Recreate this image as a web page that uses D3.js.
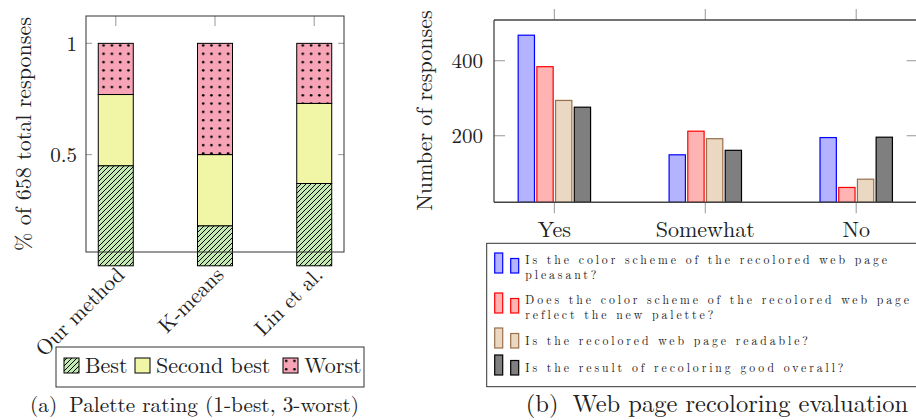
<!DOCTYPE html>
<html>
<head>
<meta charset="utf-8">
<script src="https://cdn.jsdelivr.net/npm/d3@7"></script>
<style>
  html, body { margin: 0; padding: 0; background: #fff; }
  svg { display: block; }
</style>
</head>
<body>
<svg id="chart" width="916" height="420" font-family="Latin Modern Roman, Liberation Serif, serif"></svg>
<script>
// (a) palette rating, fraction of 658 responses per method
const methods = ["Our method", "K-means", "Lin et al."];
const ranks = ["Best", "Second best", "Worst"];
const bestShare = [0.45, 0.18, 0.37];
const secondShare = [0.32, 0.32, 0.36];
const worstShare = [0.23, 0.50, 0.27];
const shareTicks = [0.5, 1];

// (b) web page recoloring evaluation, number of responses
const answers = ["Yes", "Somewhat", "No"];
const questions = [
  ["Is the color scheme of the recolored web page", "pleasant?"],
  ["Does the color scheme of the recolored web page", "reflect the new palette?"],
  ["Is the recolored web page readable?"],
  ["Is the result of recoloring good overall?"]
];
const pleasantCounts = [468, 149, 195];
const reflectCounts = [384, 212, 62];
const readableCounts = [294, 192, 84];
const overallCounts = [276, 161, 196];
const countTicks = [200, 400];

const FONT = "Latin Modern Roman, Liberation Serif, serif";
const svg = d3.select("#chart");
const defs = svg.append("defs");

// fill patterns for the stacked bars
const hatch = defs.append("pattern").attr("id", "hatch")
  .attr("patternUnits", "userSpaceOnUse").attr("width", 5).attr("height", 5);
hatch.append("rect").attr("width", 5).attr("height", 5).attr("fill", "#c3eab0");
hatch.append("path").attr("d", "M-1,1 l2,-2 M0,5 l5,-5 M4,6 l2,-2")
  .attr("stroke", "#000").attr("stroke-width", 1);

const dots = defs.append("pattern").attr("id", "dots")
  .attr("patternUnits", "userSpaceOnUse").attr("width", 8.3).attr("height", 8.3);
dots.append("rect").attr("width", 8.3).attr("height", 8.3).attr("fill", "#f6a4b6");
dots.append("circle").attr("cx", 4).attr("cy", 4).attr("r", 1.3).attr("fill", "#000");

const rankFill = ["url(#hatch)", "#f0f6a6", "url(#dots)"];

drawPaletteChart();
drawRecolorChart();

function label(sel) {
  return sel.attr("font-family", FONT).attr("fill", "#222");
}

function drawPaletteChart() {
  const box = { left: 86, right: 344, top: 16, bottom: 252 };
  const x = d3.scalePoint().domain(methods).range([box.left, box.right]).padding(0.3);
  const y = d3.scaleLinear().domain([0.062, 1.123]).range([box.bottom, box.top]);
  const barW = 35;

  const rows = methods.map((m, i) => ({ method: m, Best: bestShare[i], "Second best": secondShare[i], Worst: worstShare[i] }));
  const series = d3.stack().keys(ranks)(rows);

  const g = svg.append("g");

  // ticks inside the frame
  g.selectAll(".ytl").data(shareTicks).join("line")
    .attr("x1", box.left).attr("x2", box.left + 6)
    .attr("y1", (d) => y(d)).attr("y2", (d) => y(d))
    .attr("stroke", "#a8a8a8").attr("stroke-width", 1.2);
  g.selectAll(".ytr").data(shareTicks).join("line")
    .attr("x1", box.right - 6).attr("x2", box.right)
    .attr("y1", (d) => y(d)).attr("y2", (d) => y(d))
    .attr("stroke", "#a8a8a8").attr("stroke-width", 1.2);
  g.selectAll(".xtt").data(methods).join("line")
    .attr("x1", (d) => x(d)).attr("x2", (d) => x(d))
    .attr("y1", box.top).attr("y2", box.top + 10)
    .attr("stroke", "#a8a8a8").attr("stroke-width", 1.2);

  g.selectAll("g.layer").data(series).join("g")
    .attr("class", "layer")
    .attr("fill", (d, i) => rankFill[i])
    .selectAll("rect").data((d) => d).join("rect")
    .attr("x", (d) => x(d.data.method) - barW / 2)
    .attr("width", barW)
    .attr("y", (d) => y(d[1]))
    .attr("height", (d) => y(d[0]) - y(d[1]))
    .attr("stroke", "#000").attr("stroke-width", 1);

  g.append("rect")
    .attr("x", box.left).attr("y", box.top)
    .attr("width", box.right - box.left).attr("height", box.bottom - box.top)
    .attr("fill", "none").attr("stroke", "#333").attr("stroke-width", 1);

  g.selectAll(".ylab").data(shareTicks).join("text")
    .call(label)
    .attr("x", box.left - 9).attr("y", (d) => y(d))
    .attr("dy", "0.35em").attr("text-anchor", "end")
    .attr("font-size", 21)
    .text((d) => d3.format("")(d));

  g.selectAll(".xlab").data(methods).join("text")
    .call(label)
    .attr("text-anchor", "end").attr("font-size", 21.5)
    .attr("transform", (d) => `translate(${x(d) + 10},${box.bottom + 24}) rotate(-45)`)
    .text((d) => d);

  g.append("text")
    .call(label)
    .attr("transform", `translate(31,${(box.top + box.bottom) / 2}) rotate(-90)`)
    .attr("text-anchor", "middle").attr("font-size", 22)
    .text("% of 658 total responses");

  // legend
  const lg = svg.append("g");
  lg.append("rect").attr("x", 56).attr("y", 347).attr("width", 308).attr("height", 40)
    .attr("fill", "#fff").attr("stroke", "#333").attr("stroke-width", 1);
  const lx = [64, 135, 283];
  ranks.forEach((r, i) => {
    lg.append("rect").attr("x", lx[i]).attr("y", 358).attr("width", 15).attr("height", 15)
      .attr("fill", rankFill[i]).attr("stroke", "#000").attr("stroke-width", 1);
    lg.append("text").call(label).attr("x", lx[i] + 21).attr("y", 373)
      .attr("font-size", 22).text(r);
  });

  const cap = svg.append("text").call(label).attr("x", 30).attr("y", 412)
    .attr("font-size", 21.3);
  cap.append("tspan").text("(a)");
  cap.append("tspan").attr("dx", 12).text("Palette rating (1-best, 3-worst)");
}

function drawRecolorChart() {
  const box = { left: 494, right: 916.6, top: 20, bottom: 202.3 };
  const x0 = d3.scalePoint().domain(answers).range([box.left, box.right]).padding(0.4);
  const x1 = d3.scaleBand().domain(d3.range(questions.length)).range([-36.2, 36.2]).paddingInner(0.128);
  const y = d3.scaleLinear().domain([22.4, 508.5]).range([box.bottom, box.top]);

  const counts = [pleasantCounts, reflectCounts, readableCounts, overallCounts];
  const strokes = ["#0000ff", "#ff0000", "#99704a", "#000000"];
  const fills = ["#b3b3ff", "#ffb3b3", "#ead8c3", "#7f7f7f"];

  const g = svg.append("g");

  g.selectAll(".ytl").data(countTicks).join("line")
    .attr("x1", box.left).attr("x2", box.left + 11)
    .attr("y1", (d) => y(d)).attr("y2", (d) => y(d))
    .attr("stroke", "#a8a8a8").attr("stroke-width", 1.2);
  g.selectAll(".ytr").data(countTicks).join("line")
    .attr("x1", box.right - 10).attr("x2", box.right)
    .attr("y1", (d) => y(d)).attr("y2", (d) => y(d))
    .attr("stroke", "#a8a8a8").attr("stroke-width", 1.2);
  g.selectAll(".xtt").data(answers).join("line")
    .attr("x1", (d) => x0(d)).attr("x2", (d) => x0(d))
    .attr("y1", box.top - 11).attr("y2", box.top)
    .attr("stroke", "#a8a8a8").attr("stroke-width", 1.2);
  g.selectAll(".xtb").data(answers).join("line")
    .attr("x1", (d) => x0(d)).attr("x2", (d) => x0(d))
    .attr("y1", box.bottom).attr("y2", box.bottom + 11)
    .attr("stroke", "#a8a8a8").attr("stroke-width", 1.2);

  const groups = g.selectAll("g.grp").data(answers).join("g")
    .attr("class", "grp")
    .attr("transform", (d) => `translate(${x0(d)},0)`);
  groups.selectAll("rect")
    .data((d, ai) => counts.map((c, qi) => ({ q: qi, v: c[ai] })))
    .join("rect")
    .attr("x", (d) => x1(d.q))
    .attr("width", x1.bandwidth())
    .attr("y", (d) => y(d.v))
    .attr("height", (d) => box.bottom - y(d.v))
    .attr("fill", (d) => fills[d.q])
    .attr("stroke", (d) => strokes[d.q]).attr("stroke-width", 1.2);

  g.append("line").attr("x1", box.left).attr("x2", box.right)
    .attr("y1", box.top).attr("y2", box.top).attr("stroke", "#444").attr("stroke-width", 1.3);
  g.append("line").attr("x1", box.left).attr("x2", box.right)
    .attr("y1", box.bottom).attr("y2", box.bottom).attr("stroke", "#444").attr("stroke-width", 1.6);
  g.append("line").attr("x1", box.left).attr("x2", box.left)
    .attr("y1", box.top).attr("y2", box.bottom).attr("stroke", "#444").attr("stroke-width", 1.3);

  g.selectAll(".ylab").data(countTicks).join("text")
    .call(label)
    .attr("x", box.left - 11).attr("y", (d) => y(d))
    .attr("dy", "0.35em").attr("text-anchor", "end")
    .attr("font-size", 21)
    .text((d) => d);

  g.selectAll(".xlab").data(answers).join("text")
    .call(label)
    .attr("x", (d) => x0(d)).attr("y", 237)
    .attr("text-anchor", "middle").attr("font-size", 22)
    .text((d) => d);

  g.append("text")
    .call(label)
    .attr("transform", `translate(432,${(9 + 212) / 2}) rotate(-90)`)
    .attr("text-anchor", "middle").attr("font-size", 22)
    .text("Number of responses");

  // legend with two little bars per entry
  const lg = svg.append("g");
  lg.append("rect").attr("x", 486.7).attr("y", 243.3).attr("width", 440).attr("height", 143.4)
    .attr("fill", "#fff").attr("stroke", "#333").attr("stroke-width", 1);
  const entryTop = [253, 293, 328, 355];
  questions.forEach((lines, i) => {
    const top = entryTop[i];
    lg.append("rect").attr("x", 494.7).attr("y", top).attr("width", 8).attr("height", 20)
      .attr("fill", fills[i]).attr("stroke", strokes[i]).attr("stroke-width", 1.2);
    lg.append("rect").attr("x", 510.7).attr("y", top + 5.5).attr("width", 8).attr("height", 14.5)
      .attr("fill", fills[i]).attr("stroke", strokes[i]).attr("stroke-width", 1.2);
    lines.forEach((t, k) => {
      lg.append("text").call(label)
        .attr("font-size", 11.8).attr("letter-spacing", 2.9)
        .attr("x", 525.3).attr("y", top + (lines.length > 1 ? 11 : 17) + k * 15)
        .text(t);
    });
  });

  const cap = svg.append("text").call(label).attr("x", 717).attr("y", 412)
    .attr("text-anchor", "middle").attr("font-size", 24.5);
  cap.append("tspan").text("(b)");
  cap.append("tspan").attr("dx", 14).text("Web page recoloring evaluation");
}
</script>
</body>
</html>
